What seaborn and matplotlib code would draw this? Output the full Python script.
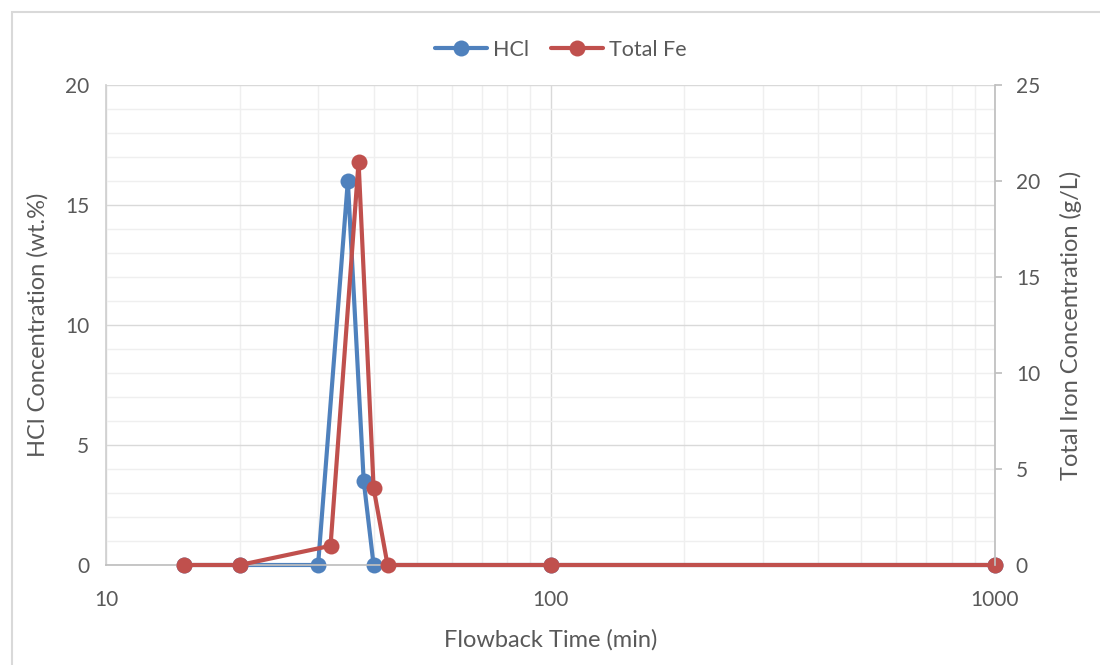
import matplotlib
matplotlib.use("Agg")
import matplotlib.pyplot as plt
import matplotlib.ticker as mticker
from matplotlib.patches import Rectangle
from matplotlib.lines import Line2D
import seaborn as sns
import pandas as pd

# Flowback samples: HCl concentration (wt.%) and total iron (g/L) vs. time (min)
hcl_time = [15, 20, 30, 35, 38, 40, 100, 1000]
hcl_conc = [0, 0, 0, 16, 3.5, 0, 0, 0]
fe_time = [15, 20, 32, 37, 40, 43, 100, 1000]
fe_conc = [0, 0, 1, 21, 4, 0, 0, 0]

x_ticks = [10, 100, 1000]
left_ticks = [0, 5, 10, 15, 20]
right_ticks = [0, 5, 10, 15, 20, 25]

BLUE = "#4F81BD"
RED = "#C0504D"
TEXT = "#595959"

sns.set_theme(style="white")
plt.rcParams["font.family"] = ["Lato", "DejaVu Sans"]
plt.rcParams["text.color"] = TEXT
plt.rcParams["axes.labelcolor"] = TEXT
plt.rcParams["xtick.color"] = TEXT
plt.rcParams["ytick.color"] = TEXT

TICK_FS = 15
LABEL_FS = 17
LW = 3.0
MS = 11.5

fig = plt.figure(figsize=(11, 6.65), dpi=100)
fig.patch.set_facecolor("white")

# light frame around the chart area
fig.patches.append(Rectangle((12 / 1100, -0.1), 1.2, 1 - 12 / 665 + 0.1,
                             transform=fig.transFigure, fill=False,
                             edgecolor="#d9d9d9", linewidth=1.5, zorder=0))

ax = fig.add_axes([106 / 1100, 1 - 565 / 665, (995 - 106) / 1100, (565 - 85) / 665])
ax2 = ax.twinx()

hcl_df = pd.DataFrame({"time": hcl_time, "conc": hcl_conc})
fe_df = pd.DataFrame({"time": fe_time, "conc": fe_conc})

line_kw = dict(linewidth=LW, marker="o", markersize=MS, markeredgewidth=0, sort=False)
sns.lineplot(data=hcl_df, x="time", y="conc", ax=ax, color=BLUE, **line_kw)
sns.lineplot(data=fe_df, x="time", y="conc", ax=ax2, color=RED, **line_kw)
for a in (ax, ax2):
    for ln in a.get_lines():
        ln.set_clip_on(False)

ax.set_xscale("log")
ax.set_xlim(10, 1000)
ax.set_ylim(0, 20)
ax2.set_ylim(0, 25)

ax.set_yticks(left_ticks)
ax.yaxis.set_minor_locator(mticker.MultipleLocator(1))
ax2.set_yticks(right_ticks)
ax.set_xticks(x_ticks)
ax.xaxis.set_major_formatter(mticker.FuncFormatter(lambda v, p: f"{v:g}"))
ax.xaxis.set_minor_locator(mticker.LogLocator(base=10, subs=range(2, 10)))
ax.xaxis.set_minor_formatter(mticker.NullFormatter())

ax.grid(which="major", color="#d9d9d9", linewidth=1.0)
ax.grid(which="minor", color="#efefef", linewidth=1.0)
ax.set_axisbelow(True)

for a in (ax, ax2):
    for s in a.spines.values():
        s.set_visible(False)
ax.spines["bottom"].set_visible(True)
ax.spines["bottom"].set_color("#bfbfbf")
ax.spines["left"].set_visible(True)
ax.spines["left"].set_color("#d0d0d0")
ax2.spines["right"].set_visible(True)
ax2.spines["right"].set_color("#bfbfbf")

ax.tick_params(axis="both", which="both", length=0, labelsize=TICK_FS)
ax.tick_params(axis="x", pad=18)
ax.tick_params(axis="y", pad=12)
ax2.tick_params(axis="y", which="major", length=5, color="#bfbfbf", direction="out",
                labelsize=TICK_FS, pad=10)

ax.set_xlabel("Flowback Time (min)", fontsize=LABEL_FS, labelpad=14)
ax.set_ylabel("HCl Concentration (wt.%)", fontsize=LABEL_FS, labelpad=12)
ax2.set_ylabel("Total Iron Concentration (g/L)", fontsize=LABEL_FS, labelpad=14)

handles = [
    Line2D([], [], color=BLUE, linewidth=LW, marker="o", markersize=MS, markeredgewidth=0),
    Line2D([], [], color=RED, linewidth=LW, marker="o", markersize=MS, markeredgewidth=0),
]
fig.legend(handles, ["HCl", "Total Fe"], loc="center", bbox_to_anchor=(561 / 1100, 1 - 50 / 665),
           ncol=2, frameon=False, fontsize=15.5, handlelength=2.4, handletextpad=0.3,
           columnspacing=1.0)

fig.savefig("out.png", dpi=100, facecolor="white")
